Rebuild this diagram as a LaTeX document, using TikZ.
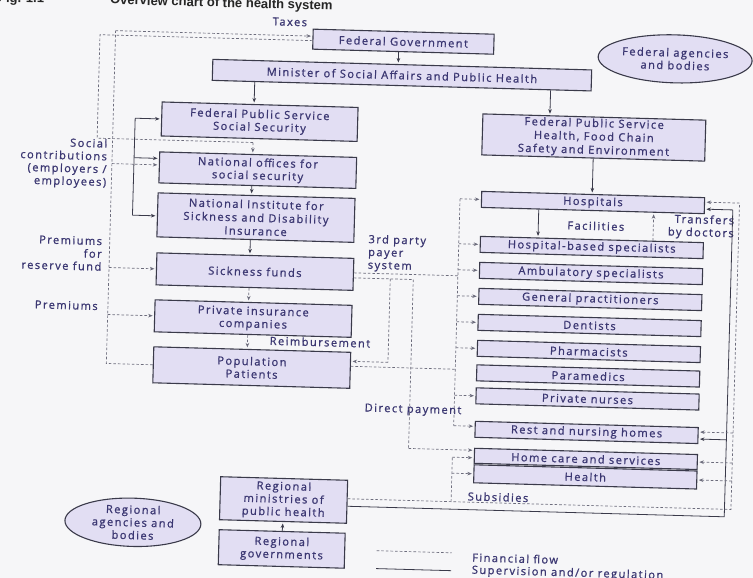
\documentclass[tikz,border=0pt]{standalone}
\usepackage{fontspec}
\setmainfont{Open Sans}[LetterSpace=13,FakeBold=1]
\newfontfamily\titlefont{Liberation Sans}
\usetikzlibrary{arrows.meta,shapes.geometric}

\definecolor{ink}{HTML}{3B3772}
\definecolor{boxfill}{HTML}{E2DEF3}
\definecolor{edge}{HTML}{3A3A4A}
\definecolor{flow}{HTML}{6C6C7C}
\definecolor{paper}{HTML}{F6F6F8}

\newcommand{\boxfont}{\fontsize{11.1}{12.8}\selectfont}
\newcommand{\loosefont}{\fontsize{11.1}{13.4}\selectfont}

\tikzset{
  box/.style={draw=edge, line width=1.1pt, fill=boxfill, text=ink, align=center,
    inner sep=0pt, font=\boxfont},
  agency/.style={ellipse, draw=edge, line width=1.1pt, fill=boxfill, text=ink,
    align=center, inner sep=0pt, font=\boxfont},
  lbl/.style={text=ink, inner sep=0pt, font=\boxfont},
  tip/.style={-{Stealth[length=4.5pt,width=3.6pt]}, shorten >=1.5pt},
  sline/.style={draw=edge, line width=0.8pt},
  sup/.style={sline, tip},
  fin/.style={draw=flow, line width=0.7pt, dash pattern=on 2.6pt off 2pt},
}

\begin{document}
\begin{tikzpicture}[x=1pt,y=-1pt]
\fill[paper] (0,0) rectangle (753,578);
\useasboundingbox (0,0) rectangle (753,578);

\begin{scope}[rotate around={-1.6:(376,289)}, transform shape]

% ---------- heading
\node[anchor=base west, inner sep=0pt, text=black!85,
      font=\titlefont\bfseries\fontsize{13}{15}\selectfont] (fig) at (-10,12.5) {Fig. 1.1};
\node[anchor=base west, inner sep=0pt, text=black!85,
      font=\titlefont\bfseries\fontsize{13}{15}\selectfont] (ttl) at (102,11.5) {Overview chart of the health system};

% ---------- federal level
\node[box, minimum width=181pt, minimum height=20pt] (fg) at (396.5,41) {Federal Government};
\node[box, minimum width=379pt, minimum height=21pt] (min) at (396,74.5) {Minister of Social Affairs and Public Health};
\node[agency, minimum width=154pt, minimum height=48pt] (fab) at (668.6,50.6) {Federal agencies\\and bodies};

% ---------- social security column
\node[box, minimum width=196pt, minimum height=34pt] (fpsss) at (255,125) {Federal Public Service\\Social Security};
\node[box, minimum width=197pt, minimum height=31pt] (nos) at (254.5,173.5) {National offices for\\social security};
\node[box, font=\loosefont, minimum width=197pt, minimum height=44pt] (nisdi) at (254,221) {National Institute for\\Sickness and Disability\\Insurance};
\node[box, minimum width=197pt, minimum height=32pt] (sf) at (254.5,275) {Sickness funds};
\node[box, minimum width=197pt, minimum height=32pt] (pic) at (254,322) {Private insurance\\companies};
\node[box, minimum width=197pt, minimum height=36pt] (pop) at (254,371) {Population\\Patients};

% ---------- health care providers column
\node[box, font=\loosefont, minimum width=223pt, minimum height=41pt] (fpsh) at (589.5,131.5) {Federal Public Service\\Health, Food Chain\\Safety and Environment};
\begin{scope}[every node/.style={box, minimum width=223pt, minimum height=16pt}]
\node (hosp)   at (590.5,196.5) {Hospitals};
\node (hbs)    at (590.5,241.5) {Hospital-based specialists};
\node (amb)    at (590.5,267.5) {Ambulatory specialists};
\node (gp)     at (590.5,293.5) {General practitioners};
\node (dent)   at (590.5,319.5) {Dentists};
\node (pharm)  at (590.5,345.5) {Pharmacists};
\node (para)   at (590.5,370)   {Paramedics};
\node (nurse)  at (590.5,393)   {Private nurses};
\node (rest)   at (590.5,426.5) {Rest and nursing homes};
\node[minimum height=15pt] (home) at (590.5,453) {Home care and services};
\node[minimum height=18pt] (health) at (590.5,471) {Health};
\end{scope}

% ---------- regional level
\node[box, minimum width=127pt, minimum height=43pt] (rmin) at (289.5,502.5) {Regional\\ministries of\\public health};
\node[box, minimum width=126pt, minimum height=35pt] (rgov) at (289,551.5) {Regional\\governments};
\node[agency, minimum width=136pt, minimum height=48pt] (rab) at (139.5,529) {Regional\\agencies and\\bodies};

% ---------- free labels
\node[lbl] (taxes) at (282.5,24.4) {Taxes};
\node[lbl, align=right, anchor=east] (socc) at (103.5,171.5) {Social\\contributions\\(employers /\\employees)};
\node[lbl, align=right, anchor=east] (prf) at (101,261.6) {Premiums\\for\\reserve fund};
\node[lbl, anchor=east] (prem) at (98.5,313.8) {Premiums};
\node[lbl] (reimb) at (321.5,343.6) {Reimbursement};
\node[lbl, align=left, anchor=west] (tpp) at (367,253.2) {3rd party\\payer\\system};
\node[lbl] (fac) at (594,219.8) {Facilities};
\node[lbl, align=right, anchor=east] (trd) at (732.3,218) {Transfers\\by doctors};
\node[lbl] (dp) at (416.4,409) {Direct payment};
\node[lbl] (subs) at (503.8,493.6) {Subsidies};

% ---------- supervision (solid)
\draw[sup] ([xshift=-4.5pt]fg.south) -- ([xshift=-4pt]min.north);
\draw[sup] ([xshift=-147pt]min.south) -- ([xshift=-6pt]fpsss.north);
\draw[sup] ([xshift=149pt]min.south) -- ([xshift=-44.5pt]fpsh.north);
\draw[sup] (fpsh.south) -- ([xshift=-1pt]hosp.north);
\draw[sup] ([xshift=-54pt]hosp.south) -- ([xshift=-54pt]hbs.north);
\draw[sup] ([xshift=-5.5pt]nos.south) -- ([xshift=-5pt]nisdi.north);
\draw[sup] ([xshift=-5pt]nisdi.south) -- ([xshift=-5.5pt]sf.north);
\draw[sup] (rgov.north) -- (rmin.south);

% bracket from the federal public service to the national bodies
\coordinate (brT) at (130.5,125);
\coordinate (brN) at (130.5,164.5);
\coordinate (brB) at (130.5,222);
\draw[sline] (brT) -- (brB);
\draw[sup] (brT) -- (fpsss.west);
\draw[sup] (brN) -- ([yshift=9pt]nos.west);
\draw[sup] (brB) -- ([yshift=-1pt]nisdi.west);

% regional supervision of hospitals and nursing homes
\coordinate (rsB) at (730.5,507);
\coordinate (rsT) at (730.5,200);
\coordinate (rsR) at (730.5,430);
\draw[sline] ([yshift=-4.5pt]rmin.east) -- (rsB) -- (rsT);
\draw[sup] (rsT) -- ([yshift=-3.5pt]hosp.east);
\draw[sup] (rsR) -- ([yshift=-3.5pt]rest.east);

% ---------- financial flows (dashed)
\draw[fin, tip] ([xshift=-5.5pt]sf.south) -- ([xshift=-5pt]pic.north);
\draw[fin, tip] ([xshift=-5pt]pic.south) -- ([xshift=-5pt]pop.north);
\draw[fin, tip] ([xshift=61pt]hbs.north) -- ([xshift=61pt]hosp.south);

% federal government to the national offices
\coordinate (xa1) at (93,42.5);
\coordinate (xa2) at (93,146);
\coordinate (xa3) at (249,146);
\draw[fin] ([yshift=-1.5pt]fg.west) -- (xa1) -- (xa2) -- (xa3);
\draw[fin, tip] (xa3) -- ([xshift=-5.5pt]nos.north);

% taxes, contributions and premiums paid by the population
\coordinate (xb0) at (108.5,38);
\coordinate (xbN) at (108.5,171);
\coordinate (xbS) at (108.5,275);
\coordinate (xbP) at (108.5,322);
\coordinate (xbE) at (108.5,371);
\draw[fin] (pop.west) -- (xbE) -- (xb0);
\draw[fin, tip] (xb0) -- ([yshift=3pt]fg.west);
\draw[fin, tip] (xbN) -- ([yshift=2.5pt]nos.west);
\draw[fin, tip] (xbS) -- (sf.west);
\draw[fin, tip] (xbP) -- (pic.west);

% third party payer system
\coordinate (tpA) at (457.5,273.5);
\coordinate (tpB) at (413,278.5);
\coordinate (tpC) at (390,278.5);
\draw[fin] ([yshift=1.5pt]sf.east) -- (tpA);
\draw[fin] ([yshift=-3.5pt]sf.east) -- (tpB);
\coordinate (pvT) at (457.5,196.5);
\coordinate (pvB) at (457.5,423.5);
\draw[fin] (pvT) -- (pvB);
\foreach \n/\y in {hosp/196.5,hbs/241.5,amb/267.5,gp/293.5,dent/319.5,pharm/345.5,nurse/393}{
  \coordinate (pv-\n) at (457.5,\y);
  \draw[fin, tip] (pv-\n) -- (\n.west);
}
\draw[fin, tip] (pvB) -- ([yshift=3pt]rest.west);

% reimbursement and direct payment
\coordinate (rbB) at (390,362);
\draw[fin] (tpC) -- (rbB);
\draw[fin, tip] (rbB) -- ([yshift=9pt]pop.east);
\coordinate (dpE) at (457.5,367);
\draw[fin] ([yshift=4pt]pop.east) -- (dpE);
\coordinate (hcA) at (413,447.5);
\draw[fin] (tpB) -- (hcA);
\draw[fin, tip] (hcA) -- ([yshift=5.5pt]home.west);

% regional subsidies
\coordinate (sbL) at (457,499.5);
\coordinate (sbT) at (457,455);
\coordinate (sbH) at (457,471);
\coordinate (sbR) at (737,499.5);
\coordinate (sbU) at (737,193);
\coordinate (sbRe) at (737,423);
\coordinate (sbHc) at (737,453);
\coordinate (sbHe) at (737,471);
\draw[fin] ([yshift=3pt]rmin.east) -- (sbR) -- (sbU);
\draw[fin] (sbL) -- (sbT);
\draw[fin, tip] (sbT) -- ([yshift=-2pt]home.west);
\draw[fin, tip] (sbH) -- (health.west);
\draw[fin, tip] (sbU) -- ([yshift=3.5pt]hosp.east);
\draw[fin, tip] (sbRe) -- ([yshift=3.5pt]rest.east);
\draw[fin, tip] (sbHc) -- (home.east);
\draw[fin, tip] (sbHe) -- (health.east);

% ---------- legend
\coordinate (lg1) at (384,550.6);
\coordinate (lg2) at (459,550.6);
\coordinate (lg3) at (384,568.5);
\coordinate (lg4) at (459,568.5);
\draw[fin] (lg1) -- (lg2);
\draw[sline] (lg3) -- (lg4);
\node[lbl, anchor=west] (lgF) at (479.5,554.5) {Financial flow};
\node[lbl, anchor=west] (lgS) at (479.5,568) {Supervision and/or regulation};

\end{scope}
\end{tikzpicture}
\end{document}
